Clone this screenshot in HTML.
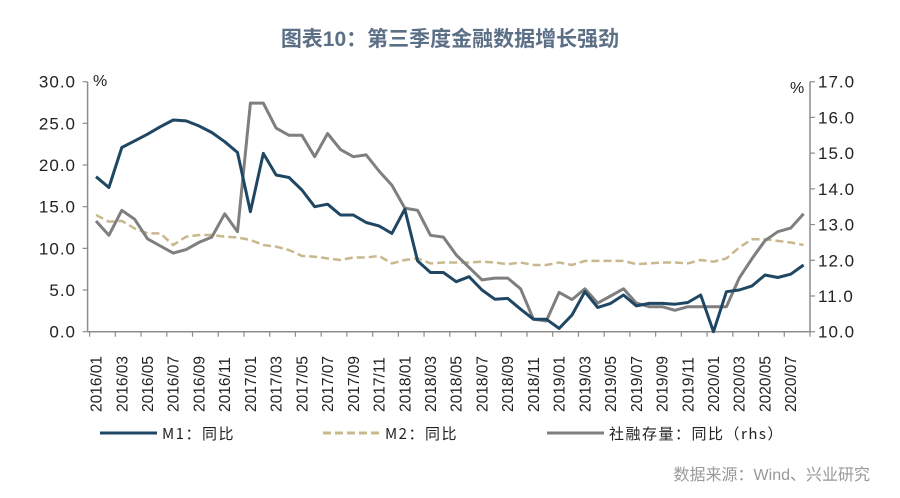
<!DOCTYPE html>
<html><head><meta charset="utf-8"><style>
html,body{margin:0;padding:0;background:#fff;}
svg{display:block;font-family:"Liberation Sans","Noto Sans CJK SC",sans-serif;}
</style></head><body>
<svg id="chart" width="900" height="498" viewBox="0 0 900 498" xmlns="http://www.w3.org/2000/svg">
<text x="450" y="46" text-anchor="middle" font-size="21" font-weight="bold" fill="#5b6f86" font-family="'Liberation Sans','Noto Sans CJK SC',sans-serif">图表10：第三季度金融数据增长强劲</text>
<g id="axes"></g>
<g id="series"></g>
<g id="legend">
<line x1="100" y1="433" x2="157" y2="433" stroke="#1f4763" stroke-width="3"/>
<text x="162" y="439" font-size="15" fill="#222" letter-spacing="1.5" font-family="'Noto Sans CJK SC',sans-serif">M1：同比</text>
<line x1="323" y1="433" x2="382" y2="433" stroke="#c9b88e" stroke-width="3" stroke-dasharray="8,4"/>
<text x="385" y="439" font-size="15" fill="#222" letter-spacing="1.5" font-family="'Noto Sans CJK SC',sans-serif">M2：同比</text>
<line x1="547" y1="433" x2="604" y2="433" stroke="#7f7f7f" stroke-width="3"/>
<text x="609" y="439" font-size="15" fill="#222" letter-spacing="1.5" font-family="'Noto Sans CJK SC',sans-serif">社融存量：同比（rhs）</text>
</g>
<text x="870" y="480" text-anchor="end" font-size="16" fill="#999" font-family="'Liberation Sans','Noto Sans CJK SC',sans-serif">数据来源：Wind、兴业研究</text>
</svg>
<script>
const m1Values=[18.6,17.3,22.1,22.9,23.7,24.6,25.4,25.3,24.7,23.9,22.8,21.5,14.4,21.4,18.8,18.5,17.0,15.0,15.3,14.0,14.0,13.1,12.7,11.8,14.7,8.5,7.1,7.1,6.0,6.6,5.0,3.9,4.0,2.7,1.5,1.5,0.4,2.0,4.8,2.9,3.4,4.4,3.1,3.4,3.4,3.3,3.5,4.4,0.0,4.8,5.0,5.5,6.8,6.5,6.9,8.0];
const m2Values=[14.0,13.2,13.3,12.4,11.8,11.8,10.4,11.4,11.6,11.6,11.4,11.3,11.0,10.4,10.2,9.8,9.1,9.0,8.8,8.6,8.9,8.9,9.1,8.2,8.6,8.8,8.2,8.3,8.3,8.3,8.4,8.3,8.1,8.3,8.0,8.0,8.3,8.0,8.5,8.5,8.5,8.5,8.1,8.2,8.3,8.3,8.2,8.6,8.4,8.8,10.1,11.1,11.1,10.9,10.7,10.4];
const tsfValues=[13.1,12.7,13.4,13.15,12.6,12.4,12.2,12.3,12.5,12.65,13.3,12.8,16.4,16.4,15.7,15.5,15.5,14.9,15.55,15.1,14.9,14.95,14.5,14.1,13.46,13.4,12.7,12.65,12.15,11.8,11.45,11.5,11.5,11.2,10.35,10.3,11.1,10.9,11.2,10.8,11.0,11.2,10.8,10.7,10.7,10.6,10.7,10.7,10.7,10.7,11.5,12.05,12.55,12.8,12.9,13.3];
const startYear=2016,startMonth=1;
const leftTicks=[0,5,10,15,20,25,30];
const leftTickLabels=["0.0","5.0","10.0","15.0","20.0","25.0","30.0"];
const rightTicks=[10,11,12,13,14,15,16,17];
const rightTickLabels=["10.0","11.0","12.0","13.0","14.0","15.0","16.0","17.0"];

const NS="http://www.w3.org/2000/svg";
const X0=89.6,X1=810,Y0=331.7,Y1=81.7;
const n=m1Values.length;
const step=(X1-X0)/n;
function xPos(i){return X0+step*(i+0.5);}
function yLeft(v){return Y0-(v-0)/(30-0)*(Y0-Y1);}
function yRight(v){return Y0-(v-10)/(17-10)*(Y0-Y1);}
function mk(tag,attrs,parent){const e=document.createElementNS(NS,tag);for(const k in attrs)e.setAttribute(k,attrs[k]);parent.appendChild(e);return e;}
const axes=document.getElementById('axes');
const series=document.getElementById('series');
const axc="#8c8c8c";
const fontCJK="'Liberation Sans','Noto Sans CJK SC',sans-serif";

let e;
e=mk('line',{x1:X0-2,y1:Y1,x2:X0-2,y2:Y0,stroke:axc,'stroke-width':1.5},axes);


e=mk('line',{x1:X1,y1:Y1,x2:X1,y2:Y0,stroke:axc,'stroke-width':1.5},axes);


e=mk('line',{x1:X0-2,y1:Y0,x2:X1,y2:Y0,stroke:axc,'stroke-width':1.5},axes);



leftTicks.forEach((v,k)=>{
  const y=yLeft(v);
  let t=mk('line',{x1:X0-7,y1:y,x2:X0-2,y2:y,stroke:axc,'stroke-width':1.2},axes);
  
  
  let l=mk('text',{x:76,y:y+6,'text-anchor':'end','font-size':17,fill:'#222','letter-spacing':1,'font-family':fontCJK},axes);
  l.textContent=leftTickLabels[k];
  
  
});
rightTicks.forEach((v,k)=>{
  const y=yRight(v);
  let t=mk('line',{x1:X1,y1:y,x2:X1+5,y2:y,stroke:axc,'stroke-width':1.2},axes);
  
  
  let l=mk('text',{x:818,y:y+6,'text-anchor':'start','font-size':17,fill:'#222','letter-spacing':1,'font-family':fontCJK},axes);
  l.textContent=rightTickLabels[k];
  
  
});
e=mk('text',{x:93,y:86,'font-size':16,fill:'#222'},axes);
e.textContent='%';


e=mk('text',{x:790,y:93,'font-size':16,fill:'#222'},axes);
e.textContent='%';



for(let i=0;i<=n;i+=2){
  const x=X0+step*i;
  let t=mk('line',{x1:x,y1:Y0,x2:x,y2:Y0+5,stroke:axc,'stroke-width':1.2},axes);
  
  
}
for(let i=0;i<n;i+=2){
  const mo=startMonth-1+i;const yr=startYear+Math.floor(mo/12);const m=mo%12+1;
  const lab=yr+'/'+(m<10?'0':'')+m;
  const x=xPos(i)+5.5,y=412;
  let l=mk('text',{x:x,y:y,transform:`rotate(-90 ${x} ${y})`,'font-size':15.5,fill:'#222','text-anchor':'start'},axes);
  l.textContent=lab;
  
  
}

function pts(arr,f){return arr.map((v,i)=>xPos(i).toFixed(1)+','+f(v).toFixed(1)).join(' ');}
e=mk('polyline',{points:pts(m2Values,yLeft),fill:'none',stroke:'#c9b88e','stroke-width':2.5,'stroke-dasharray':'8,4'},series);


e=mk('polyline',{points:pts(tsfValues,yRight),fill:'none',stroke:'#7f7f7f','stroke-width':3,'stroke-linejoin':'round'},series);


e=mk('polyline',{points:pts(m1Values,yLeft),fill:'none',stroke:'#1f4763','stroke-width':3,'stroke-linejoin':'round'},series);


</script>
</body></html>
